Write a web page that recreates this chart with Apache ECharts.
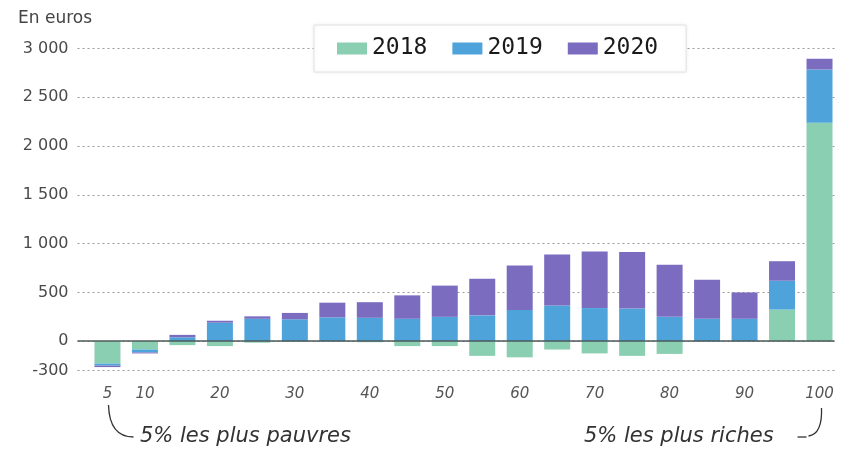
<!DOCTYPE html>
<html>
<head>
<meta charset="utf-8">
<script src="https://cdn.jsdelivr.net/npm/echarts@6/dist/echarts.min.js"></script>
<style>
    html, body { margin: 0; padding: 0; background: #ffffff; }
    #gainChart { width: 860px; height: 451px; }
</style>
</head>
<body>
<div id="gainChart"></div>
<script>
// vingtiles de niveau de vie (5% ... 100%)
var categories = [5, 10, 15, 20, 25, 30, 35, 40, 45, 50, 55, 60, 65, 70, 75, 80, 85, 90, 95, 100];
// gains en euros par année de mesure
var values2018 = [-230, -85, -40, -50, -15, -5, 0, -10, -50, -50, -150, -165, -85, -125, -150, -130, 0, 0, 325, 2240];
var values2019 = [-20, -30, 40, 190, 230, 225, 245, 240, 230, 250, 265, 320, 365, 340, 335, 250, 230, 230, 295, 545];
var values2020 = [-15, -10, 25, 20, 25, 65, 150, 160, 240, 320, 375, 455, 525, 580, 580, 535, 400, 270, 200, 110];
// graduations
var yTicks = [-300, 0, 500, 1000, 1500, 2000, 2500, 3000];
var xTicks = [5, 10, 20, 30, 40, 50, 60, 70, 80, 90, 100];

var seriesNames = ['2018', '2019', '2020'];
var seriesValues = [values2018, values2019, values2020];
var colors = ['#8bcfb3', '#4ea4da', '#7b6cc0'];

// [valeur, vingtile] : la valeur en premier pour que l'empilement se fasse sur y
function toPairs(list) {
    var out = [];
    for (var i = 0; i < categories.length; i++) {
        out.push([list[i], categories[i]]);
    }
    return out;
}

var toSeries = [];
for (var i = 0; i < seriesNames.length; i++) {
    var s = {
        name: seriesNames[i],
        type: 'bar',
        stack: 'total',
        barWidth: 26,
        encode: { x: 1, y: 0 },
        data: toPairs(seriesValues[i])
    };
    if (i == seriesNames.length - 1) {
        // ligne du zéro, au-dessus des barres
        s.markLine = {
            silent: true,
            symbol: 'none',
            label: { show: false },
            lineStyle: { color: '#4d5a58', type: 'solid', width: 1.5 },
            data: [{ yAxis: 0 }]
        };
    }
    toSeries.push(s);
}

var option = {
    animation: false,
    color: colors,
    textStyle: { fontFamily: '"DejaVu Sans", sans-serif' },
    legend: {
        data: seriesNames,
        left: 314,
        top: 25,
        padding: [12, 28, 12, 23],
        itemWidth: 30,
        itemHeight: 12,
        itemGap: 25,
        borderColor: '#e2e2e2',
        borderWidth: 1,
        shadowColor: 'rgba(0,0,0,0.08)',
        shadowBlur: 4,
        backgroundColor: '#ffffff',
        icon: 'rect',
        textStyle: {
            fontFamily: '"DejaVu Sans Mono", monospace',
            fontSize: 23,
            color: '#1a1a1a'
        }
    },
    grid: {
        left: 77.5,
        right: 25.5,
        top: 48.5,
        bottom: 80.5
    },
    xAxis: {
        type: 'value',
        min: 1,
        max: 102,
        axisLine: { show: false },
        splitLine: { show: false },
        axisTick: { show: false, customValues: xTicks },
        axisLabel: {
            customValues: xTicks,
            margin: 16,
            color: '#555555',
            fontSize: 15,
            fontStyle: 'italic',
            fontFamily: '"DejaVu Sans", sans-serif'
        }
    },
    yAxis: {
        type: 'value',
        min: -300,
        max: 3000,
        axisLine: { show: false },
        axisTick: { show: false, customValues: yTicks },
        axisLabel: {
            customValues: yTicks,
            margin: 9,
            color: '#4a4a4a',
            fontSize: 16,
            fontFamily: '"DejaVu Sans", sans-serif',
            formatter: function (v) {
                var n = Math.abs(v);
                var txt = n >= 1000 ? Math.floor(n / 1000) + ' ' + ('00' + (n % 1000)).slice(-3) : '' + n;
                return (v < 0 ? '-' : '') + txt;
            }
        },
        splitLine: {
            show: true,
            lineStyle: { color: '#9a9a9a', type: [2, 3], width: 1 }
        }
    },
    series: toSeries
};

var gainChart = echarts.init(document.getElementById('gainChart'));
gainChart.setOption(option, true);

// annotations sous l'axe, ancrées sur le premier et le dernier vingtile
var xFirst = gainChart.convertToPixel({ xAxisIndex: 0 }, categories[0]);
var xLast = gainChart.convertToPixel({ xAxisIndex: 0 }, categories[categories.length - 1]);
var hookStyle = { stroke: '#333333', lineWidth: 1.3, fill: null };
var noteFont = { fontFamily: '"DejaVu Sans", sans-serif', fontSize: 21, fontStyle: 'italic', fill: '#333333' };

gainChart.setOption({
    graphic: [
        {
            type: 'text',
            left: 18,
            top: 10,
            style: { text: 'En euros', fontFamily: '"DejaVu Sans", sans-serif', fontSize: 17, fill: '#444444' }
        },
        {
            type: 'bezierCurve',
            shape: { x1: xFirst + 1, y1: 405, cpx1: xFirst + 2, cpy1: 437, x2: xFirst + 26, y2: 437 },
            style: hookStyle
        },
        {
            type: 'text',
            x: 140,
            y: 426,
            style: echarts.util.extend({ text: '5% les plus pauvres' }, noteFont)
        },
        {
            type: 'text',
            x: 584,
            y: 426,
            style: echarts.util.extend({ text: '5% les plus riches' }, noteFont)
        },
        {
            type: 'line',
            shape: { x1: xLast - 22, y1: 437, x2: xLast - 13, y2: 437 },
            style: hookStyle
        },
        {
            type: 'bezierCurve',
            shape: { x1: xLast - 11, y1: 436, cpx1: xLast + 3, cpy1: 434, x2: xLast + 2, y2: 408 },
            style: hookStyle
        }
    ]
});
</script>
</body>
</html>
